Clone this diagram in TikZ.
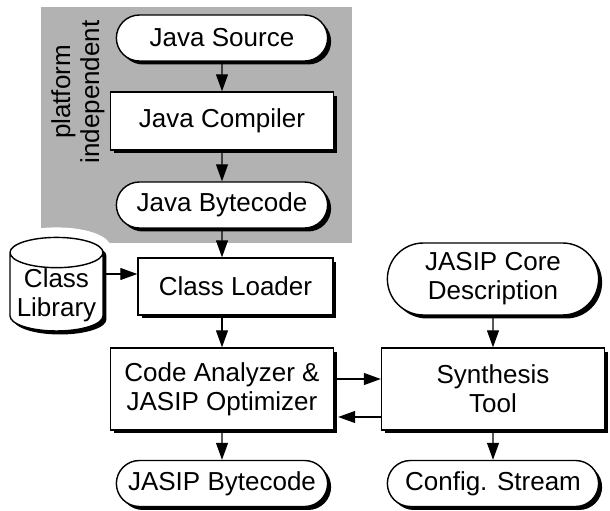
\documentclass[tikz,border=0pt]{standalone}
\usepackage{fontspec}
\setmainfont{Liberation Sans}
\usetikzlibrary{arrows.meta,shapes.misc,shapes.geometric,shadows}

\begin{document}
\begin{tikzpicture}[
    x=0.02cm, y=-0.02cm,
    every node/.style={font=\fontsize{14.8}{16.5}\selectfont},
    blackshadow/.style={drop shadow={shadow xshift=0.07cm, shadow yshift=-0.07cm,
                        fill=black, opacity=1}},
    term/.style={rounded rectangle, draw, fill=white, line width=0.8pt, align=center,
                 minimum width=4.46cm, minimum height=0.92cm, blackshadow},
    proc/.style={rectangle, draw, fill=white, line width=0.8pt, align=center,
                 minimum width=4.46cm, blackshadow},
    store/.style={cylinder, shape border rotate=90, aspect=0.35, draw, fill=white,
                  line width=0.8pt, align=center, inner ysep=0pt, inner xsep=2pt,
                  minimum width=1.86cm, minimum height=0pt,
                  preaction={draw=white, line width=0.4cm}, blackshadow},
    arr/.style={-{Triangle[length=0.34cm, width=0.24cm]}, line width=0.6pt},
  ]
    \useasboundingbox (0,0) rectangle (610,511);

    % Platform independent part ----------------------------------------------
    \fill[black!30] (41,7) rectangle (352,243);
    \node[rotate=90, align=center] (platform) at (78,92) {platform\\independent};

    % Left column ------------------------------------------------------------
    \node[term] (jsource)   at (222,38)    {Java Source};
    \node[proc, minimum height=1.16cm] (jcompiler) at (222,121) {Java Compiler};
    \node[term] (jbytecode) at (222,205)   {Java Bytecode};
    \node[proc, minimum width=3.9cm, minimum height=1.14cm]
                (cloader)   at (235.5,286.5) {Class Loader};
    \node[proc, minimum height=1.64cm]
                (canalyzer) at (222,389)   {Code Analyzer \&\\JASIP Optimizer};
    \node[term] (jasipbc)   at (222,483.5) {JASIP Bytecode};

    % Class library ----------------------------------------------------------
    \node[store] (classlib) at (56.5,295) {Class\\Library};

    % Right column -----------------------------------------------------------
    \node[term, minimum height=1.44cm]
                (coredesc)  at (493,279)   {JASIP Core\\Description};
    \node[proc, minimum height=1.64cm]
                (synth)     at (493,389)   {Synthesis\\Tool};
    \node[term] (cstream)   at (493,483.5) {Config. Stream};

    % Arrows -----------------------------------------------------------------
    \coordinate (libout) at ([yshift=0.42cm]classlib.east);
    \coordinate (toolin) at ([yshift=0.2cm]canalyzer.east);
    \coordinate (toolout) at ([yshift=-0.56cm]synth.west);

    \draw[arr] (jsource)   -- (jcompiler);
    \draw[arr] (jcompiler) -- (jbytecode);
    \draw[arr] (jbytecode) -- (jbytecode |- cloader.north);
    \draw[arr] (libout)    -- (libout -| cloader.west);
    \draw[arr] (canalyzer.north |- cloader.south) -- (canalyzer);
    \draw[arr] (canalyzer) -- (jasipbc);
    \draw[arr] (coredesc)  -- (synth);
    \draw[arr] (synth)     -- (cstream);
    \draw[arr] (toolin)    -- (toolin -| synth.west);
    \draw[arr] (toolout)   -- ([xshift=0.08cm]toolout -| canalyzer.east);
  \end{tikzpicture}
\end{document}
